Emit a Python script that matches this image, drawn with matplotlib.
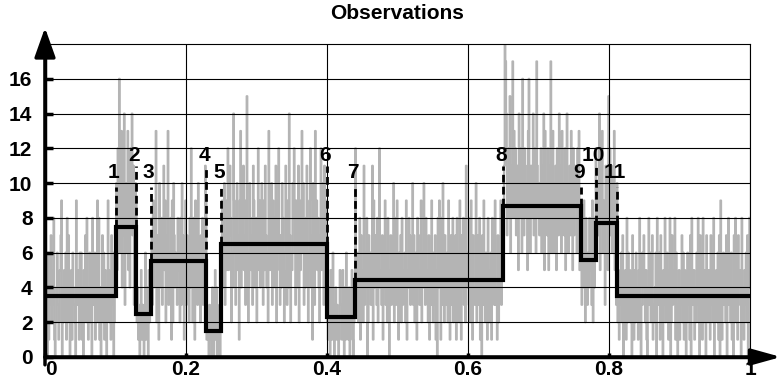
import numpy as np
import matplotlib
matplotlib.use("Agg")
import matplotlib.pyplot as plt

plt.rcParams['font.family'] = ['Liberation Sans', 'DejaVu Sans']
plt.rcParams['font.weight'] = 'bold'

# observed counts, one character per sample (base-36 digit), split by segment
obs_segments = [
    "3520614372" "5381024631" "2579042536" "1847203516" "4320935416"
    "2614053728" "4136250834" "6152938140" "3726154039" "5241736025",
    "7a5c8g69d4" "b7e38a6d59" "4c8e7b36a9",
    "2413025132" "0361420523",
    "5739468d25" "71a64836b5" "9274d36581" "92a7465385"
    "6283a74159" "3756284c62" "8419573a46" "2758364b91",
    "1203120410" "2514021302",
    "6948a3759c" "57b8264e96" "38a5719d46" "8b5739f624" "a8573b9468"
    "27c5948a63" "95b7462d85" "7a39684b25" "9c6374a852" "6b8394e726"
    "5a8c63947b" "2859d6a374" "8b6259c471" "a63d795842" "7c5a83b694",
    "2134052163" "0241320153" "3152041623" "1402351024",
    "c436258174" "52b3648027" "4635b19475" "3826c45371" "4593628405"
    "7365a24839" "5164728354" "6291548736" "4a37256184" "5379264a63"
    "8452716394" "2637150849" "5183a62743" "6294175382" "3571846295"
    "1748362b54" "6382951743" "4a25738160" "7395264182" "5261847393"
    "4172659385",
    "9bihe7a8cf" "6b9h8dac79" "b5e8ca6g97" "cb8a5dg96b" "8ae79c6hb8"
    "a79c6b8e5d" "9a7c5b8h69" "d6a8b5c97e" "8b6d9a7c58" "ea69b7d85c"
    "7b9a6c8d59",
    "5374962853" "6485739264",
    "8c6a97e5b8" "d6973b8a5f" "9c7b6a8d57",
    "3a25143627" "0435182635" "2407315263" "4158203647" "3251048362"
    "5713246085" "3617240538" "2463158027" "3548163025" "1437261540"
    "2635170843" "5142638207" "3618254073" "2541736280" "4352617093"
    "1463527048" "3526140738" "2617453082" "4153627048",
]

# estimated change points and segment means
change_points = [0.100, 0.129, 0.150, 0.229, 0.250, 0.400, 0.440, 0.650, 0.760, 0.781, 0.811]
levels = [3.5, 7.5, 2.5, 5.5, 1.5, 6.5, 2.3, 4.4, 8.7, 5.6, 7.7, 3.5]
cp_labels = ["1", "2", "3", "4", "5", "6", "7", "8", "9", "10", "11"]

x_ticks = [0, 0.2, 0.4, 0.6, 0.8, 1.0]
x_ticklabels = ["0", "0.2", "0.4", "0.6", "0.8", "1"]
y_ticks = [0, 2, 4, 6, 8, 10, 12, 14, 16]

counts = np.array([int(c, 36) for seg in obs_segments for c in seg])
x_obs = np.arange(len(counts)) / len(counts)

fig = plt.figure(figsize=(7.81, 3.85), dpi=100)
ax = fig.add_axes([45 / 781, 28 / 385, 705 / 781, 313 / 385])

ax.plot(x_obs, counts, color='#b4b4b4', lw=1.5, drawstyle='steps-post', zorder=1)

edges = [0.0] + change_points + [1.0]
ax.stairs(levels, edges, baseline=None, color='k', lw=3, zorder=4)

for i, (cp, lab) in enumerate(zip(change_points, cp_labels)):
    lo = max(levels[i], levels[i + 1])
    if i % 2 == 1:
        top, txt_y = 11.0, 11.25
    else:
        top, txt_y = 9.8, 10.3
    ax.plot([cp, cp], [lo, top], color='k', lw=2, dashes=(2.8, 1.5), zorder=3)
    ax.text(cp - 0.003, txt_y, lab, ha='center', va='baseline',
            fontsize=15, fontweight='bold', zorder=5)

ax.set_xlim(0, 1)
ax.set_ylim(0, 18)
ax.set_xticks(x_ticks)
ax.set_xticklabels(x_ticklabels)
ax.set_yticks(y_ticks)
ax.set_yticklabels([str(v) for v in y_ticks])
ax.get_xticklabels()[0].set_horizontalalignment('left')
ax.get_yticklabels()[0].set_verticalalignment('center_baseline')

ax.grid(True, color='k', lw=0.8)
ax.set_axisbelow('line')

for side in ['top', 'right']:
    ax.spines[side].set_linewidth(0.8)
for side in ['left', 'bottom']:
    ax.spines[side].set_linewidth(2.5)

ax.tick_params(axis='y', direction='in', length=6, width=2.5, pad=9, labelsize=15)
ax.tick_params(axis='x', direction='in', length=3, width=2.5, pad=2, labelsize=15)

# axis arrows
ax.annotate('', xy=(0, 1.052), xytext=(0, -0.025), xycoords='axes fraction',
            annotation_clip=False,
            arrowprops=dict(arrowstyle='-|>,head_length=0.9,head_width=0.32',
                            lw=2.5, color='k', mutation_scale=20,
                            shrinkA=0, shrinkB=0))
ax.annotate('', xy=(1.044, 0), xytext=(0, 0), xycoords='axes fraction',
            annotation_clip=False,
            arrowprops=dict(arrowstyle='-|>,head_length=0.9,head_width=0.25',
                            lw=2.5, color='k', mutation_scale=20,
                            shrinkA=0, shrinkB=0))

ax.set_title('Observations', fontsize=15, fontweight='bold', pad=18)

fig.savefig('out.png', dpi=100)
